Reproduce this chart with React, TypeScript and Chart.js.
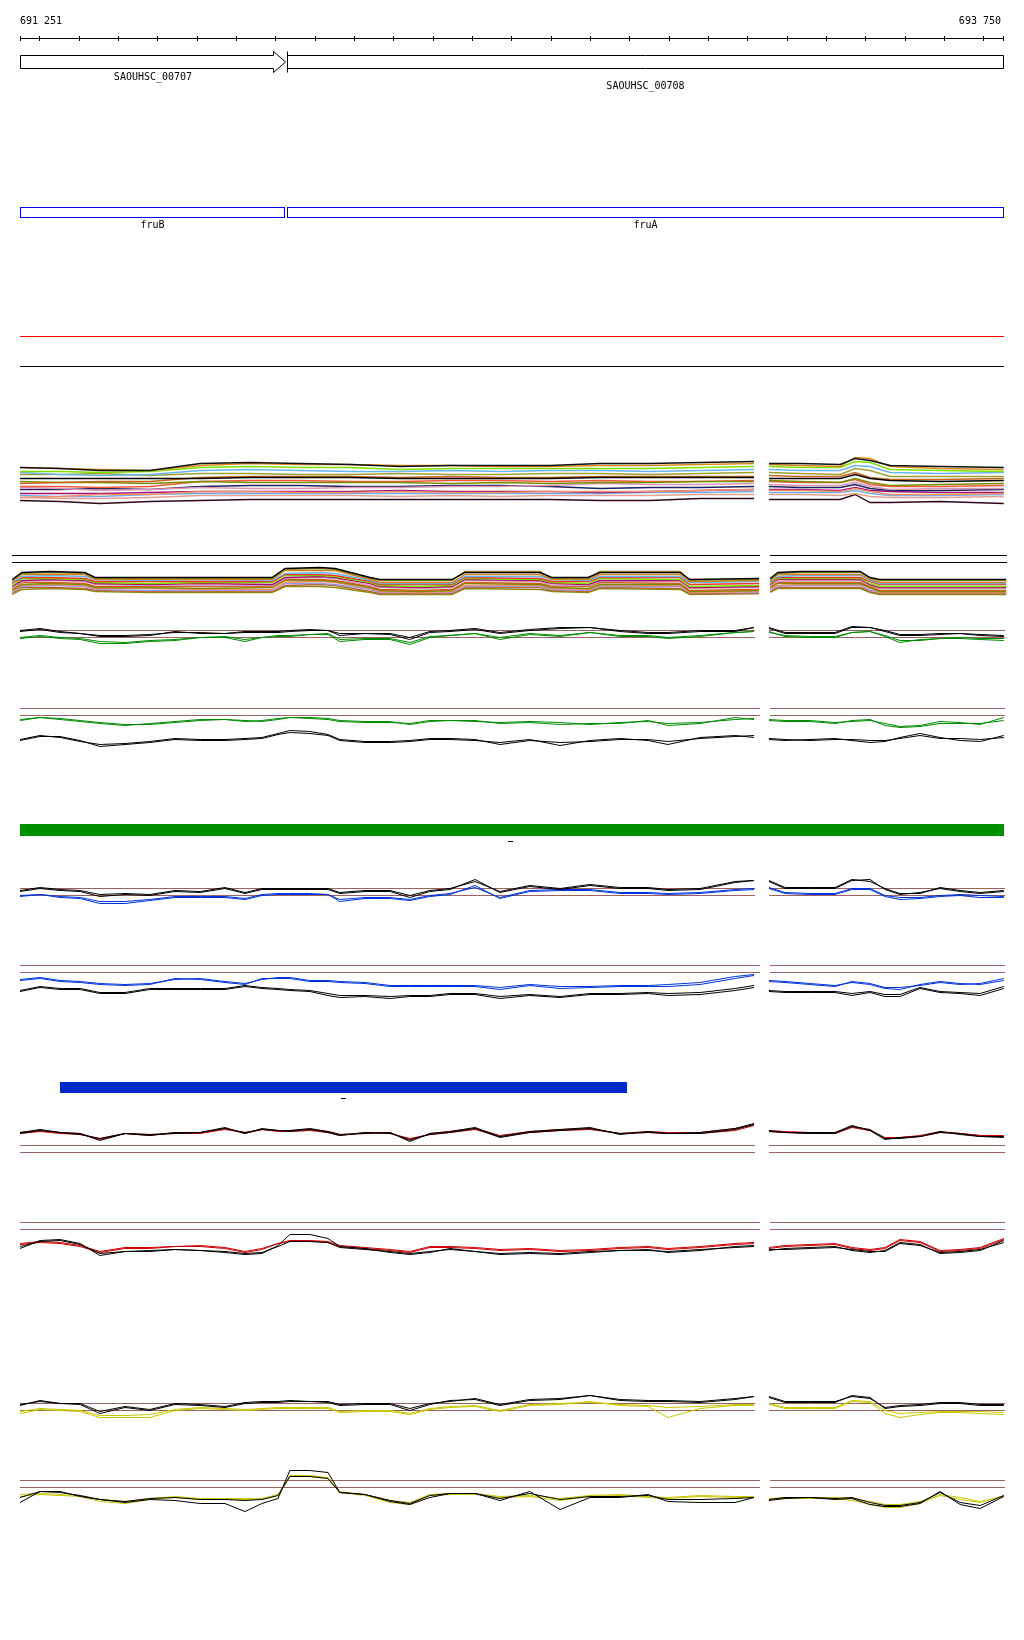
import { useEffect, useRef } from "react";
import { Chart, registerables } from "chart.js";
Chart.register(...registerables);

// ---------- view / annotation data ----------
const VIEW_START = 691251;
const VIEW_END = 693750;
const RULER_LABELS = ["691 251", "693 750"];
const TICK_STEP = 100;

const GENE_NAMES = ["SAOUHSC_00707", "SAOUHSC_00708"];
const GENE_STARTS = [691251, 691930];
const GENE_ENDS = [691925, 693750];

const CDS_NAMES = ["fruB", "fruA"];
const CDS_STARTS = [691251, 691930];
const CDS_ENDS = [691922, 693750];

const GREEN_FEATURE = [691251, 693752];
const BLUE_FEATURE = [691353, 692794];

// sample positions (bp)
const T1_LEFT_POS = [691251, 691353, 691454, 691581, 691709, 691836, 691963, 692090, 692217, 692344, 692471, 692598, 692725, 692853, 692980, 693117];
const T1_RIGHT_POS = [693155, 693234, 693336, 693374, 693412, 693463, 693590, 693752];
const T2_LEFT_POS = [691231, 691256, 691327, 691416, 691442, 691581, 691709, 691892, 691925, 692014, 692052, 692141, 692166, 692268, 692349, 692382, 692573, 692603, 692695, 692725, 692929, 692954, 693130];
const T2_RIGHT_POS = [693158, 693178, 693234, 693387, 693412, 693437, 693590, 693758];
const LEFT_POS = [691251, 691302, 691353, 691404, 691454, 691518, 691581, 691645, 691709, 691772, 691823, 691866, 691907, 691937, 691988, 692034, 692064, 692128, 692192, 692242, 692293, 692344, 692408, 692471, 692547, 692624, 692700, 692776, 692848, 692898, 692980, 693069, 693117];
const RIGHT_POS = [693155, 693196, 693259, 693323, 693366, 693412, 693450, 693488, 693539, 693590, 693641, 693692, 693752];

// ---------- track 1 (many samples) ----------
const T1_COLORS = ["#111111", "#d88a1e", "#80e000", "#6ab4f0", "#a0a030", "#000000", "#c8641e", "#788c00", "#f05a3c", "#d898b8", "#202060", "#f09070", "#a0106e", "#70b0e8", "#e8a090", "#300818"];
const T1_LINES = [
  [38, 37, 35, 35, 42, 43, 42, 41, 39, 40, 40, 40, 42, 42, 43, 44, 42, 42, 41, 47, 45, 40, 39, 38],
  [38, 37, 36, 35, 40, 42, 41, 41, 40, 40, 39, 39, 40, 40, 41, 42, 41, 40, 39, 48, 47, 39, 37, 36],
  [34, 34, 33, 34, 38, 39, 38, 38, 36, 37, 37, 37, 37, 37, 38, 39, 39, 38, 38, 44, 43, 36, 35, 34],
  [33, 31, 30, 31, 35, 36, 35, 34, 34, 35, 34, 35, 35, 34, 35, 36, 36, 35, 35, 40, 39, 33, 32, 33],
  [31, 31, 32, 30, 32, 32, 31, 31, 32, 31, 31, 32, 32, 31, 32, 33, 33, 32, 31, 37, 35, 29, 29, 29],
  [27, 27, 27, 27, 27, 28, 28, 28, 27, 27, 27, 27, 28, 28, 28, 28, 27, 27, 27, 31, 27, 25, 24, 25],
  [22, 23, 24, 24, 28, 29, 29, 29, 28, 29, 28, 28, 29, 29, 29, 29, 30, 29, 29, 33, 28, 26, 26, 27],
  [24, 23, 23, 22, 24, 23, 23, 23, 23, 22, 23, 22, 23, 23, 24, 24, 25, 24, 23, 27, 23, 20, 21, 22],
  [19, 19, 18, 19, 24, 25, 25, 24, 24, 25, 25, 24, 25, 24, 24, 25, 24, 23, 23, 26, 21, 19, 19, 20],
  [18, 17, 15, 16, 18, 17, 17, 18, 18, 19, 19, 20, 22, 21, 21, 22, 21, 20, 20, 23, 19, 16, 17, 17],
  [16, 16, 17, 16, 19, 20, 20, 19, 19, 20, 20, 19, 17, 18, 18, 19, 19, 18, 18, 21, 17, 15, 15, 16],
  [8, 9, 11, 11, 14, 14, 13, 13, 14, 13, 13, 14, 14, 14, 15, 16, 15, 15, 14, 17, 14, 11, 11, 12],
  [12, 12, 12, 13, 14, 14, 14, 14, 15, 14, 14, 14, 13, 14, 15, 16, 16, 16, 15, 18, 15, 14, 13, 13],
  [10, 9, 9, 11, 12, 12, 12, 12, 12, 12, 12, 12, 12, 13, 13, 14, 13, 13, 13, 15, 12, 10, 10, 11],
  [8, 7, 7, 8, 10, 10, 10, 10, 9, 10, 9, 10, 10, 10, 11, 11, 11, 11, 10, 12, 9, 8, 8, 9],
  [5, 4, 2, 4, 5, 6, 6, 6, 6, 6, 6, 6, 5, 5, 7, 7, 6, 6, 6, 11, 3, 3, 4, 2],
];

// ---------- track 2 (many samples) ----------
const T2_COLORS = ["#000000", "#a09030", "#d08020", "#6ab4f0", "#e03c28", "#80e000", "#a0106e", "#d898b8", "#c8641e", "#788c00", "#f09070", "#9898e8", "#b86428", "#8c8c14"];
const T2_LINES = [
  [16, 23, 24, 23, 18, 18, 18, 18, 27, 28, 27, 18, 16, 16, 16, 23, 23, 18, 18, 23, 23, 16, 17, 17, 23, 24, 24, 18, 16, 16, 16],
  [15, 22, 23, 22, 17, 17, 17, 17, 26, 27, 26, 17, 15, 15, 15, 24, 24, 17, 17, 24, 24, 15, 16, 16, 22, 23, 23, 17, 15, 15, 15],
  [14, 21, 21, 21, 16, 16, 16, 16, 25, 25, 25, 16, 13, 13, 13, 21, 21, 16, 16, 21, 21, 14, 15, 15, 21, 21, 21, 16, 13, 13, 13],
  [13, 19, 20, 19, 16, 15, 16, 15, 22, 23, 22, 15, 12, 12, 12, 19, 19, 16, 15, 19, 19, 13, 14, 14, 19, 20, 20, 15, 12, 12, 12],
  [12, 18, 18, 17, 14, 14, 14, 14, 21, 21, 20, 14, 11, 11, 11, 18, 17, 14, 14, 18, 18, 11, 12, 13, 18, 18, 18, 14, 11, 11, 11],
  [10, 17, 17, 16, 13, 12, 13, 13, 20, 20, 19, 13, 10, 9, 10, 17, 16, 13, 12, 17, 16, 9, 10, 12, 17, 17, 17, 12, 9, 9, 9],
  [9, 15, 16, 15, 12, 11, 12, 11, 18, 19, 18, 12, 9, 8, 9, 16, 15, 12, 11, 15, 15, 8, 9, 11, 16, 16, 16, 11, 8, 8, 8],
  [8, 14, 15, 14, 11, 10, 10, 10, 17, 18, 17, 10, 8, 7, 8, 15, 14, 10, 10, 14, 14, 7, 8, 10, 14, 15, 15, 10, 7, 7, 7],
  [6, 13, 13, 12, 9, 9, 9, 9, 16, 16, 15, 9, 6, 5, 6, 13, 12, 9, 9, 13, 12, 5, 6, 9, 13, 13, 13, 9, 5, 5, 5],
  [5, 11, 12, 11, 8, 8, 7, 8, 15, 15, 14, 8, 5, 4, 5, 12, 11, 8, 7, 11, 11, 4, 5, 8, 12, 12, 12, 8, 4, 4, 4],
  [4, 10, 11, 10, 7, 7, 6, 6, 13, 14, 13, 7, 4, 3, 4, 10, 10, 7, 6, 10, 10, 3, 4, 7, 10, 11, 11, 7, 3, 3, 3],
  [3, 9, 10, 9, 6, 5, 5, 5, 12, 12, 11, 6, 3, 3, 3, 9, 9, 6, 5, 9, 9, 3, 3, 6, 9, 10, 10, 5, 3, 3, 3],
  [2, 8, 8, 7, 5, 4, 4, 4, 10, 11, 10, 4, 2, 2, 2, 8, 8, 5, 4, 8, 7, 2, 2, 4, 8, 8, 8, 4, 2, 2, 2],
  [1, 6, 7, 6, 4, 3, 3, 3, 9, 9, 8, 3, 1, 1, 1, 7, 6, 4, 3, 7, 6, 1, 2, 3, 7, 7, 7, 3, 1, 1, 1],
];

// ---------- signal tracks (level relative to the upper reference line; left 33 + right 13 values) ----------
const T3_BLACK_1 = [-1, 1, -2, -3, -6, -6, -5, -1, -3, -3, -2, -2, -2, -1, 0, 0, -5, -3, -4, -9, -2, -1, 1, -3, 0, 2, 3, -1, -3, -3, -1, -1, 3, 2, -3, -3, -3, 3, 3, -1, -5, -5, -4, -3, -5, -6];
const T3_BLACK_2 = [0, 2, -1, -3, -5, -5, -4, -2, -2, -3, -1, -1, -1, 0, 1, 0, -3, -3, -3, -7, -1, 0, 2, -2, 1, 3, 3, 0, -2, -2, 0, 0, 3, 3, -2, -2, -2, 4, 3, 0, -4, -4, -3, -3, -4, -5];
const T3_GREEN_1 = [-8, -6, -8, -9, -13, -13, -11, -10, -7, -7, -11, -7, -6, -6, -4, -4, -11, -9, -9, -14, -7, -5, -3, -9, -4, -6, -2, -6, -6, -8, -6, -2, -1, -1, -6, -7, -7, -2, -1, -6, -12, -9, -8, -8, -9, -10];
const T3_GREEN_2 = [-7, -5, -7, -8, -11, -12, -10, -9, -7, -6, -9, -7, -5, -5, -4, -3, -9, -8, -8, -12, -6, -5, -3, -7, -3, -5, -2, -5, -5, -7, -5, -2, -1, -2, -5, -6, -6, -2, -1, -5, -10, -10, -8, -7, -8, -8];

const T4_GREEN_1 = [-12, -9, -10, -12, -14, -16, -16, -14, -12, -11, -12, -13, -11, -9, -9, -10, -12, -13, -13, -16, -13, -12, -12, -15, -14, -16, -15, -15, -12, -17, -15, -9, -11, -11, -12, -12, -14, -13, -12, -15, -18, -17, -13, -14, -16, -9];
const T4_GREEN_2 = [-11, -9, -11, -13, -15, -17, -15, -13, -11, -11, -13, -12, -10, -9, -10, -11, -13, -14, -14, -15, -12, -12, -13, -14, -13, -14, -16, -14, -13, -15, -14, -11, -10, -12, -13, -13, -15, -12, -11, -17, -19, -18, -15, -15, -15, -12];
const T4_BLACK_1 = [-32, -28, -28, -32, -38, -36, -34, -31, -32, -32, -31, -30, -26, -24, -25, -27, -32, -34, -34, -33, -31, -31, -32, -34, -31, -37, -32, -30, -32, -36, -29, -27, -29, -31, -32, -31, -30, -32, -34, -33, -29, -25, -29, -32, -33, -27];
const T4_BLACK_2 = [-31, -27, -29, -33, -36, -35, -33, -30, -31, -31, -30, -29, -25, -22, -23, -26, -31, -33, -33, -32, -30, -30, -31, -36, -32, -34, -33, -31, -31, -33, -30, -28, -27, -30, -31, -32, -31, -31, -32, -32, -30, -27, -30, -30, -31, -29];

const T5_BLACK_1 = [-3, 0, -2, -3, -8, -6, -7, -3, -4, 0, -5, -1, -1, -1, -1, -1, -5, -3, -3, -9, -3, -1, 9, -4, 2, -1, 3, 0, 0, -2, -1, 6, 8, 7, 0, 0, 0, 8, 9, -1, -6, -4, 0, -3, -5, -3];
const T5_BLACK_2 = [-2, 1, -1, -2, -6, -5, -6, -2, -3, 1, -4, 0, 0, 0, 0, 0, -4, -2, -2, -7, -2, 0, 7, -3, 3, 0, 4, 1, 1, -1, 0, 7, 8, 8, 1, 1, 1, 9, 7, 0, -5, -5, 1, -2, -4, -2];
const T5_BLUE_1 = [-8, -6, -9, -10, -15, -15, -12, -9, -9, -9, -11, -7, -6, -6, -6, -6, -13, -10, -10, -12, -8, -6, 3, -10, -3, -2, -2, -5, -5, -6, -5, -2, -1, 0, -5, -6, -6, -1, -1, -8, -11, -10, -8, -7, -9, -9];
const T5_BLUE_2 = [-7, -6, -8, -9, -13, -13, -11, -8, -8, -8, -10, -6, -5, -5, -5, -6, -11, -9, -9, -11, -7, -5, 1, -9, -2, -1, -1, -4, -4, -5, -4, -1, 0, 1, -4, -5, -5, 0, 0, -7, -9, -9, -7, -6, -7, -8];

const T6_BLUE_1 = [-15, -13, -16, -17, -19, -20, -19, -13, -14, -17, -19, -13, -13, -13, -16, -16, -17, -18, -21, -21, -21, -21, -21, -24, -20, -23, -22, -21, -21, -21, -19, -13, -10, -15, -16, -18, -20, -17, -19, -23, -24, -19, -16, -18, -19, -15];
const T6_BLUE_2 = [-14, -12, -15, -16, -18, -19, -18, -14, -13, -16, -18, -14, -12, -12, -15, -15, -16, -17, -20, -20, -20, -20, -20, -22, -19, -21, -21, -20, -20, -19, -17, -11, -9, -16, -17, -19, -21, -16, -18, -22, -22, -20, -17, -19, -18, -13];
const T6_BLACK_1 = [-26, -22, -24, -24, -28, -28, -24, -24, -24, -24, -21, -23, -24, -25, -26, -30, -32, -31, -33, -31, -31, -29, -29, -33, -30, -32, -29, -29, -28, -30, -29, -25, -22, -26, -27, -27, -27, -30, -27, -31, -31, -23, -27, -28, -30, -23];
const T6_BLACK_2 = [-25, -21, -23, -23, -27, -27, -23, -23, -23, -23, -20, -22, -23, -24, -25, -28, -30, -30, -31, -30, -30, -28, -28, -31, -29, -31, -28, -28, -27, -28, -27, -23, -20, -25, -26, -26, -26, -28, -26, -29, -29, -22, -26, -27, -28, -21];

const T7_BLACK_1 = [13, 16, 13, 12, 5, 12, 10, 13, 13, 18, 12, 17, 15, 15, 17, 14, 11, 12, 13, 4, 12, 14, 18, 9, 14, 16, 18, 11, 14, 12, 13, 17, 22, 15, 13, 13, 13, 20, 15, 6, 8, 9, 14, 11, 9, 8];
const T7_BLACK_2 = [12, 15, 13, 11, 7, 12, 11, 12, 13, 17, 13, 16, 15, 14, 16, 13, 10, 13, 12, 6, 11, 13, 17, 8, 13, 15, 17, 12, 13, 12, 12, 16, 21, 14, 13, 12, 12, 19, 16, 7, 7, 9, 13, 12, 9, 9];
const T7_RED_1 = [13, 15, 13, 12, 6, 12, 10, 13, 13, 17, 12, 16, 15, 15, 16, 14, 11, 12, 13, 5, 12, 14, 17, 10, 14, 16, 17, 12, 14, 13, 13, 17, 21, 15, 14, 13, 13, 19, 15, 7, 8, 10, 14, 12, 10, 9];
const T7_RED_2 = [12, 14, 12, 11, 7, 12, 11, 12, 12, 16, 13, 16, 14, 14, 15, 13, 10, 13, 12, 7, 11, 13, 16, 9, 13, 15, 16, 12, 13, 12, 12, 15, 20, 14, 13, 12, 12, 18, 15, 8, 8, 9, 13, 12, 10, 10];

const T8_BLACK_1 = [-26, -18, -17, -21, -33, -29, -29, -27, -28, -30, -32, -31, -23, -12, -12, -16, -24, -26, -30, -32, -30, -26, -29, -32, -31, -32, -30, -28, -27, -30, -28, -24, -23, -28, -26, -25, -24, -28, -30, -28, -20, -22, -31, -30, -28, -18];
const T8_BLACK_2 = [-24, -19, -18, -22, -31, -29, -28, -27, -28, -29, -31, -30, -24, -19, -19, -20, -25, -27, -29, -31, -29, -27, -29, -31, -30, -31, -29, -28, -28, -29, -27, -25, -24, -27, -27, -26, -25, -27, -29, -29, -21, -23, -30, -29, -27, -20];
const T8_RED_1 = [-22, -20, -21, -24, -30, -26, -26, -24, -24, -26, -30, -27, -21, -19, -19, -20, -24, -26, -28, -30, -25, -25, -26, -28, -27, -29, -28, -26, -25, -27, -25, -22, -21, -26, -24, -23, -22, -26, -28, -26, -18, -20, -29, -28, -26, -17];
const T8_RED_2 = [-21, -19, -20, -23, -29, -25, -25, -24, -23, -25, -29, -26, -21, -18, -18, -19, -23, -25, -27, -29, -24, -24, -25, -27, -26, -28, -27, -25, -24, -26, -24, -21, -20, -25, -23, -22, -21, -25, -27, -25, -17, -19, -28, -27, -25, -16];

const T9_BLACK_1 = [-2, 3, 0, -1, -10, -4, -7, -1, -2, -4, 0, 1, 1, 2, 2, 1, -2, -1, -1, -7, -1, 3, 4, -2, 3, 4, 8, 3, 2, 2, 1, 4, 7, 6, 1, 1, 1, 8, 6, -5, -3, -2, 0, 0, -2, -2];
const T9_BLACK_2 = [-1, 2, 0, 0, -8, -3, -6, 0, -1, -3, 1, 2, 2, 3, 2, 2, -1, 0, 0, -5, 0, 2, 5, -1, 4, 5, 8, 4, 3, 3, 2, 5, 7, 7, 2, 2, 2, 7, 5, -4, -2, -1, 1, 1, -1, -1];
const T9_YELLOW_1 = [-10, -6, -7, -8, -14, -14, -14, -7, -5, -6, -7, -6, -5, -5, -5, -5, -9, -8, -8, -11, -6, -4, -3, -8, -2, -1, 2, -2, -3, -14, -5, -2, -2, -1, -5, -5, -5, 2, 1, -10, -14, -11, -9, -9, -10, -11];
const T9_YELLOW_2 = [-8, -5, -6, -7, -12, -12, -11, -6, -4, -5, -6, -5, -4, -4, -4, -4, -8, -7, -7, -10, -5, -3, -2, -7, -1, 0, 1, -1, -2, -4, -3, -1, -1, 0, -4, -4, -4, 3, 2, -7, -10, -9, -8, -8, -8, -9];

const T10_BLACK_1 = [-22, -11, -11, -16, -19, -22, -19, -20, -23, -23, -31, -23, -18, 10, 10, 8, -12, -14, -21, -24, -17, -13, -13, -20, -11, -29, -17, -17, -14, -21, -22, -22, -17, -20, -18, -17, -19, -18, -24, -26, -26, -23, -11, -24, -28, -16];
const T10_BLACK_2 = [-17, -11, -12, -15, -19, -21, -18, -17, -19, -19, -20, -19, -15, 4, 4, 2, -12, -14, -20, -23, -15, -13, -13, -18, -13, -19, -16, -16, -15, -19, -19, -18, -17, -19, -17, -17, -18, -17, -22, -25, -25, -22, -12, -22, -25, -15];
const T10_YELLOW_1 = [-16, -14, -15, -16, -21, -23, -19, -17, -19, -19, -19, -19, -15, 4, 4, 2, -12, -15, -22, -24, -15, -14, -14, -17, -16, -20, -16, -15, -17, -18, -16, -17, -17, -19, -18, -18, -18, -20, -24, -27, -27, -23, -14, -17, -21, -16];
const T10_YELLOW_2 = [-14, -13, -14, -15, -19, -21, -18, -16, -18, -18, -18, -18, -14, 5, 5, 3, -11, -14, -20, -22, -14, -13, -13, -16, -15, -18, -15, -14, -16, -17, -15, -16, -16, -18, -17, -17, -17, -18, -21, -24, -24, -21, -15, -19, -22, -15];

// ---------- layout (rows on the hidden y axis) ----------
const T1_BASE = 505;
const T2_BASE = 595;
const T2_RULE_ROWS = [555, 562];
const T2_SPAN = [691231, 693130, 693158, 693758];
const TRACK_ROWS = [630, 708, 888, 965, 1145, 1222, 1403, 1480];
const REF_GAP = 7;
const REF_SPANS_ODD = [691251, 693117, 693155, 693752];
const REF_SPANS_EVEN = [691251, 693130, 693158, 693752];

const BLACK = "#000000";
const GREEN = "#008c00";
const BLUE = "#0033dd";
const RED = "#d00000";
const YELLOW = "#c8c800";
const REF_COLOR = "#9c6262";

const SIGNALS: [number, number[], string][] = [
  [0, T3_BLACK_1, BLACK], [0, T3_BLACK_2, BLACK], [0, T3_GREEN_1, GREEN], [0, T3_GREEN_2, GREEN],
  [1, T4_BLACK_1, BLACK], [1, T4_BLACK_2, BLACK], [1, T4_GREEN_1, GREEN], [1, T4_GREEN_2, GREEN],
  [2, T5_BLACK_1, BLACK], [2, T5_BLACK_2, BLACK], [2, T5_BLUE_1, BLUE], [2, T5_BLUE_2, BLUE],
  [3, T6_BLACK_1, BLACK], [3, T6_BLACK_2, BLACK], [3, T6_BLUE_1, BLUE], [3, T6_BLUE_2, BLUE],
  [4, T7_BLACK_1, BLACK], [4, T7_BLACK_2, BLACK], [4, T7_RED_1, RED], [4, T7_RED_2, RED],
  [5, T8_BLACK_1, BLACK], [5, T8_BLACK_2, BLACK], [5, T8_RED_1, RED], [5, T8_RED_2, RED],
  [6, T9_BLACK_1, BLACK], [6, T9_BLACK_2, BLACK], [6, T9_YELLOW_1, YELLOW], [6, T9_YELLOW_2, YELLOW],
  [7, T10_BLACK_1, BLACK], [7, T10_BLACK_2, BLACK], [7, T10_YELLOW_1, YELLOW], [7, T10_YELLOW_2, YELLOW],
];

function lineSet(xs: number[], vals: number[], offset: number, base: number, color: string, width = 1) {
  return {
    type: "scatter" as const,
    data: xs.map((x, i) => ({ x, y: base - vals[offset + i] })),
    showLine: true,
    borderColor: color,
    backgroundColor: color,
    borderWidth: width,
    pointRadius: 0,
    pointHoverRadius: 0,
    tension: 0,
    fill: false,
    clip: false as any,
  };
}

function buildDatasets() {
  const sets: any[] = [];
  T1_LINES.forEach((vals, k) => {
    sets.push(lineSet(T1_LEFT_POS, vals, 0, T1_BASE, T1_COLORS[k], 1.4));
    sets.push(lineSet(T1_RIGHT_POS, vals, T1_LEFT_POS.length, T1_BASE, T1_COLORS[k], 1.4));
  });
  T2_LINES.forEach((vals, k) => {
    sets.push(lineSet(T2_LEFT_POS, vals, 0, T2_BASE, T2_COLORS[k], 1.4));
    sets.push(lineSet(T2_RIGHT_POS, vals, T2_LEFT_POS.length, T2_BASE, T2_COLORS[k], 1.4));
  });
  SIGNALS.forEach(([t, vals, color]) => {
    const base = TRACK_ROWS[t];
    sets.push(lineSet(LEFT_POS, vals, 0, base, color));
    sets.push(lineSet(RIGHT_POS, vals, LEFT_POS.length, base, color));
  });
  return sets;
}

const FONT = '10px "DejaVu Sans Mono", "Liberation Mono", monospace';

const browserLayer = {
  id: "browserLayer",
  beforeDraw(chart: any) {
    const ctx = chart.ctx;
    ctx.save();
    ctx.fillStyle = "#ffffff";
    ctx.fillRect(0, 0, chart.width, chart.height);
    ctx.restore();
  },
  beforeDatasetsDraw(chart: any) {
    const ctx: CanvasRenderingContext2D = chart.ctx;
    const xs = chart.scales.x;
    const ys = chart.scales.y;
    const px = (bp: number) => Math.round(xs.getPixelForValue(bp));
    const row = (r: number) => Math.floor(ys.getPixelForValue(r));
    const hline = (a: number, b: number, r: number, color: string) => {
      ctx.fillStyle = color;
      ctx.fillRect(px(a), row(r), px(b) - px(a) + 1, 1);
    };
    ctx.save();

    // ruler
    ctx.fillStyle = BLACK;
    ctx.font = FONT;
    ctx.textBaseline = "alphabetic";
    ctx.textAlign = "left";
    ctx.fillText(RULER_LABELS[0], px(VIEW_START), row(24));
    ctx.textAlign = "right";
    ctx.fillText(RULER_LABELS[1], px(VIEW_END) - 2, row(24));
    hline(VIEW_START, VIEW_END, 38, BLACK);
    const ticks = [VIEW_START];
    for (let t = Math.ceil(VIEW_START / TICK_STEP) * TICK_STEP; t < VIEW_END; t += TICK_STEP) ticks.push(t);
    ticks.push(VIEW_END);
    ticks.forEach((t) => ctx.fillRect(px(t), row(36), 1, 5));

    // genes
    ctx.strokeStyle = BLACK;
    ctx.lineWidth = 1;
    const top = row(55) + 0.5, bot = row(68) + 0.5, htop = row(51) + 0.5, hbot = row(72) + 0.5;
    GENE_NAMES.forEach((name, i) => {
      const x1 = px(GENE_STARTS[i]) + 0.5;
      const x2 = px(GENE_ENDS[i]) + 0.5;
      ctx.beginPath();
      if (i === 0) {
        const hb = x2 - 12;
        ctx.moveTo(x1, top);
        ctx.lineTo(hb, top);
        ctx.lineTo(hb, htop);
        ctx.lineTo(x2, (top + bot) / 2);
        ctx.lineTo(hb, hbot);
        ctx.lineTo(hb, bot);
        ctx.lineTo(x1, bot);
        ctx.closePath();
      } else {
        ctx.rect(x1, top, x2 - x1, bot - top);
        ctx.moveTo(x1, htop);
        ctx.lineTo(x1, hbot);
      }
      ctx.stroke();
      ctx.textAlign = "center";
      ctx.fillStyle = BLACK;
      ctx.fillText(name, (x1 + x2) / 2, row(i === 0 ? 80 : 89));
    });

    // CDS boxes
    ctx.strokeStyle = "#0000ee";
    CDS_NAMES.forEach((name, i) => {
      const x1 = px(CDS_STARTS[i]) + 0.5;
      const x2 = px(CDS_ENDS[i]) + 0.5;
      ctx.strokeRect(x1, row(207) + 0.5, x2 - x1, 10);
      ctx.fillStyle = BLACK;
      ctx.textAlign = "center";
      ctx.fillText(name, (x1 + x2) / 2, row(228));
    });

    // separator rules
    hline(VIEW_START, VIEW_END, 336, "#ff0000");
    hline(VIEW_START, VIEW_END, 366, BLACK);

    // track 2 rules
    T2_RULE_ROWS.forEach((r) => {
      hline(T2_SPAN[0], T2_SPAN[1], r, BLACK);
      hline(T2_SPAN[2], T2_SPAN[3], r, BLACK);
    });

    // reference lines
    TRACK_ROWS.forEach((r, i) => {
      const sp = i % 2 === 0 ? REF_SPANS_ODD : REF_SPANS_EVEN;
      [r, r + REF_GAP].forEach((rr) => {
        hline(sp[0], sp[1], rr, REF_COLOR);
        hline(sp[2], sp[3], rr, REF_COLOR);
      });
    });

    // feature bars
    ctx.fillStyle = "#008f00";
    ctx.fillRect(px(GREEN_FEATURE[0]), row(824), px(GREEN_FEATURE[1]) - px(GREEN_FEATURE[0]), 12);
    ctx.fillStyle = "#0029c8";
    ctx.fillRect(px(BLUE_FEATURE[0]), row(1082), px(BLUE_FEATURE[1]) - px(BLUE_FEATURE[0]), 11);
    ctx.fillStyle = BLACK;
    const gm = Math.round((px(GREEN_FEATURE[0]) + px(GREEN_FEATURE[1])) / 2);
    ctx.fillRect(gm - 4, row(841), 5, 1);
    const bm = Math.round((px(BLUE_FEATURE[0]) + px(BLUE_FEATURE[1])) / 2);
    ctx.fillRect(bm - 3, row(1098), 5, 1);

    ctx.restore();
  },
};

export default function App() {
  const canvasRef = useRef<HTMLCanvasElement>(null);
  useEffect(() => {
    const canvas = canvasRef.current;
    if (!canvas) return;
    const chart = new Chart(canvas, {
      type: "scatter",
      data: { datasets: buildDatasets() },
      options: {
        animation: false,
        responsive: false,
        devicePixelRatio: 1,
        events: [],
        layout: { padding: { left: 20, right: 21, top: 0, bottom: 0 } },
        plugins: { legend: { display: false }, tooltip: { enabled: false }, title: { display: false } },
        scales: {
          x: { type: "linear", min: VIEW_START, max: VIEW_END, display: false },
          y: { type: "linear", min: -0.5, max: 1639.5, reverse: true, display: false },
        },
      },
      plugins: [browserLayer],
    } as any);
    return () => chart.destroy();
  }, []);
  return (
    <div style={{ position: "absolute", left: 0, top: 0, width: 1024, height: 1640, background: "#fff" }}>
      <canvas ref={canvasRef} width={1024} height={1640} style={{ display: "block", width: 1024, height: 1640 }} />
    </div>
  );
}
